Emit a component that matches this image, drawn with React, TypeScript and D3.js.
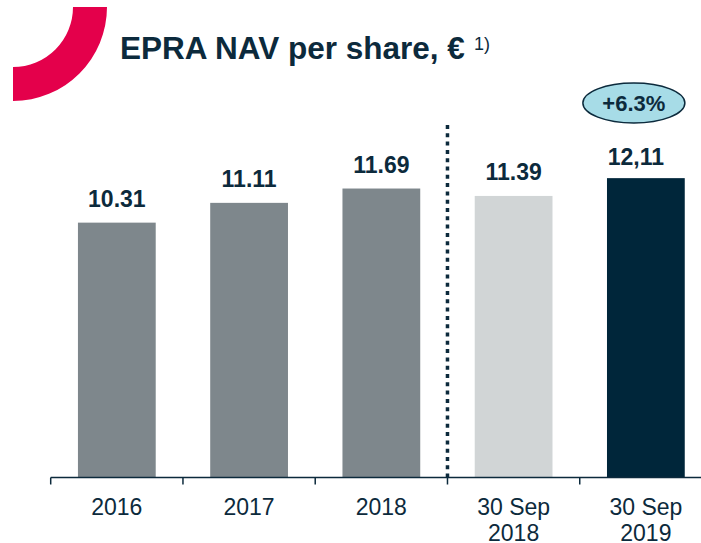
import React from "react";
import * as d3 from "d3";

const categories = ["2016", "2017", "2018", "30 Sep 2018", "30 Sep 2019"];
const categoryLines = [["2016"], ["2017"], ["2018"], ["30 Sep", "2018"], ["30 Sep", "2019"]];
const values = [10.31, 11.11, 11.69, 11.39, 12.11];
const valueLabels = ["10.31", "11.11", "11.69", "11.39", "12,11"];
const barColors = ["#7e878c", "#7e878c", "#7e878c", "#d1d5d6", "#00263a"];
const changeLabel = "+6.3%";

const W = 701;
const H = 543;
const NAVY = "#0c2a3c";
const FONT = "'Liberation Sans', Arial, Helvetica, sans-serif";

export default function App() {
  const x0 = 50.7;
  const x1 = 712;
  const baseY = 477.5;
  const pxPerUnit = 24.72;

  const x = d3.scaleBand<string>().domain(categories).range([x0, x1]).paddingInner(0.412).paddingOuter(0.206);
  const y = d3.scaleLinear().domain([0, 14]).range([baseY, baseY - 14 * pxPerUnit]);
  const step = x.step();
  const bw = x.bandwidth();

  const arc = d3.arc()({
    innerRadius: 60,
    outerRadius: 94,
    startAngle: Math.PI / 2,
    endAngle: Math.PI,
  } as any) as string;

  const labelDx = [0, 0, 0, 0, -10];
  const labelDy = [0, 0, 0, 0, 3];
  const boundaries = d3.range(categories.length + 1).map((i) => x0 + i * step);
  const lastCenter = (x(categories[4]) as number) + bw / 2;

  return (
    <div style={{ position: "absolute", left: 0, top: 0 }}>
      <svg width={W} height={H} style={{ display: "block", background: "#fff" }} fontFamily={FONT}>
        <path d={arc} transform="translate(13,7)" fill="#e4004b" />
        <text x={120} y={59} fontSize={31.5} fontWeight="bold" fill={NAVY}>
          EPRA NAV per share, €
          <tspan dx={9} dy={-9} fontSize={18} fontWeight="normal">1)</tspan>
        </text>

        {categories.map((c, i) => (
          <rect
            key={c}
            x={x(c)}
            y={y(values[i])}
            width={bw}
            height={baseY - y(values[i])}
            fill={barColors[i]}
          />
        ))}

        {categories.map((c, i) => (
          <text
            key={"v" + c}
            x={(x(c) as number) + bw / 2 + labelDx[i]}
            y={y(values[i]) - 16 + labelDy[i]}
            textAnchor="middle"
            fontSize={23}
            fontWeight="bold"
            fill={NAVY}
          >
            {valueLabels[i]}
          </text>
        ))}

        <line
          x1={boundaries[3]}
          x2={boundaries[3]}
          y1={125}
          y2={baseY}
          stroke={NAVY}
          strokeWidth={3.5}
          strokeDasharray="4 4.3"
        />

        <line x1={x0} x2={W} y1={baseY} y2={baseY} stroke={NAVY} strokeWidth={1.5} />
        {boundaries.map((b, i) => (
          <line key={"t" + i} x1={b} x2={b} y1={baseY} y2={baseY + 7} stroke={NAVY} strokeWidth={1.5} />
        ))}

        {categories.map((c, i) => (
          <text
            key={"c" + c}
            x={(x(c) as number) + bw / 2}
            y={515}
            textAnchor="middle"
            fontSize={23}
            fill={NAVY}
          >
            {categoryLines[i].map((ln, j) => (
              <tspan key={j} x={(x(c) as number) + bw / 2} dy={j === 0 ? 0 : 26}>
                {ln}
              </tspan>
            ))}
          </text>
        ))}

        <ellipse cx={lastCenter - 12} cy={103} rx={51} ry={20} fill="#a7dce7" stroke={NAVY} strokeWidth={1.5} />
        <text x={lastCenter - 12} y={111} textAnchor="middle" fontSize={22} fontWeight="bold" fill={NAVY}>
          {changeLabel}
        </text>
      </svg>
    </div>
  );
}
